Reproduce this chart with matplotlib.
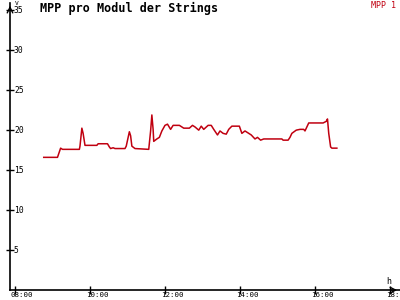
import matplotlib
matplotlib.use('Agg')
import matplotlib.pyplot as plt

# MPP voltage per module
times = ['08:46', '09:08', '09:13', '09:16', '09:43', '09:44', '09:47', '09:49',
         '09:52', '10:11', '10:13', '10:28', '10:31', '10:33', '10:37', '10:40',
         '10:56', '10:58', '11:03', '11:05', '11:07', '11:12', '11:34', '11:37',
         '11:39', '11:41', '11:42', '11:47', '11:51', '11:55', '12:00', '12:04',
         '12:09', '12:13', '12:23', '12:30', '12:39', '12:44', '12:48', '12:54',
         '12:58', '13:02', '13:09', '13:14', '13:18', '13:24', '13:28', '13:33',
         '13:38', '13:42', '13:47', '13:59', '14:03', '14:08', '14:14', '14:18',
         '14:24', '14:28', '14:33', '14:38', '14:56', '15:07', '15:09', '15:17',
         '15:20', '15:23', '15:30', '15:36', '15:42', '15:44', '15:50', '16:13',
         '16:18', '16:20', '16:22', '16:25', '16:27', '16:35']
mpp1 = [16.6, 16.6, 17.75, 17.6, 17.6, 18.0, 20.25, 19.6,
        18.1, 18.1, 18.3, 18.3, 17.9, 17.7, 17.8, 17.7,
        17.7, 18.0, 19.8, 19.3, 18.0, 17.7, 17.6, 19.9,
        21.9, 20.1, 18.6, 18.9, 19.1, 19.9, 20.6, 20.75,
        20.1, 20.6, 20.6, 20.25, 20.25, 20.6, 20.4, 20.0,
        20.5, 20.1, 20.6, 20.6, 20.1, 19.4, 19.9, 19.6,
        19.5, 20.1, 20.5, 20.5, 19.6, 19.9, 19.6, 19.4,
        18.9, 19.1, 18.75, 18.9, 18.9, 18.9, 18.75, 18.75,
        19.1, 19.6, 20.0, 20.1, 20.1, 19.9, 20.9, 20.9,
        21.1, 21.4, 19.6, 17.9, 17.75, 17.75]

xticks = [8, 10, 12, 14, 16, 18]
yticks = [5, 10, 15, 20, 25, 30, 35]

hours = [int(t[:2]) + int(t[3:]) / 60 for t in times]

mono = 'DejaVu Sans Mono'
red = '#c00010'
fig = plt.figure(figsize=(4, 3), dpi=100)
ax = fig.add_axes([0.025, 0.033, 0.975, 0.957])
ax.plot(hours, mpp1, color=red, lw=1.1)

ax.set_xlim(7.867, 18.267)
ax.set_ylim(0, 35.9)
for s in ['top', 'right']:
    ax.spines[s].set_visible(False)
for s in ['left', 'bottom']:
    ax.spines[s].set_linewidth(1.2)

ax.set_xticks(xticks)
ax.set_yticks(yticks)
ax.tick_params(direction='inout', length=6, width=1, labelleft=False,
               labelbottom=False)
for h in xticks:
    ax.annotate('%02d:00' % h, (h, 0), xytext=(-4, -2), textcoords='offset pixels',
                ha='left', va='top', fontsize=5.4, family=mono, color='black',
                annotation_clip=False)
for v in yticks:
    ax.annotate(str(v), (7.867, v), xytext=(4, 0), textcoords='offset pixels',
                ha='left', va='center', fontsize=5.8, family=mono, color='black')

# axis arrows
ax.annotate('', xy=(1.0, 0), xytext=(0.97, 0), xycoords='axes fraction',
            arrowprops=dict(arrowstyle='->', lw=1, color='black'))
ax.annotate('', xy=(0, 1.0), xytext=(0, 0.97), xycoords='axes fraction',
            arrowprops=dict(arrowstyle='->', lw=1, color='black'))

fig.text(0.038, 0.997, 'V', fontsize=4.5, family=mono, va='top')
fig.text(0.966, 0.048, 'h', fontsize=6, family=mono, va='bottom')
fig.text(0.1, 0.995, 'MPP pro Modul der Strings', fontsize=8.5, family=mono,
         fontweight='bold', va='top')
fig.text(0.99, 0.995, 'MPP 1', fontsize=6, family=mono, color=red,
         ha='right', va='top')

fig.savefig('out.png', dpi=100)
